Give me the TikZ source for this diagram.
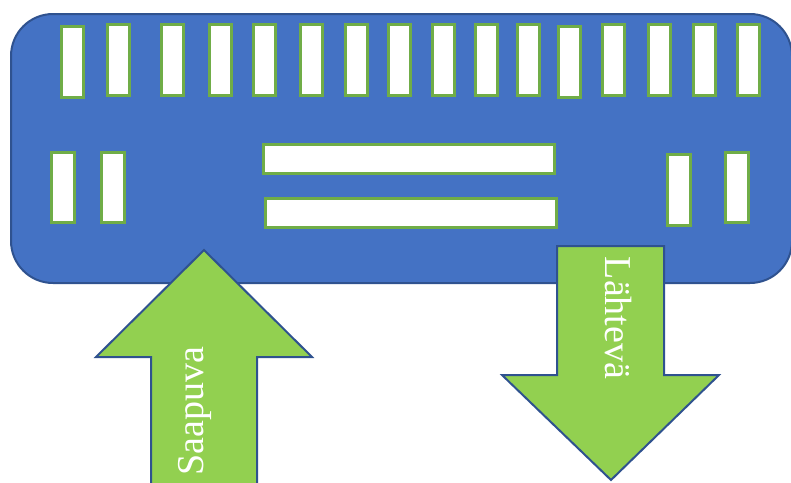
\documentclass[tikz,border=0pt]{standalone}
\usepackage{fontspec}
\setmainfont{Liberation Serif}
\definecolor{boxblue}{HTML}{4472C4}
\definecolor{edgeblue}{HTML}{2F528F}
\definecolor{bargreen}{HTML}{70AD47}
\definecolor{arrowgreen}{HTML}{92D050}
\begin{document}
\begin{tikzpicture}[x=1pt,y=-1pt,
  panel/.style={fill=boxblue,draw=edgeblue,line width=2pt,rounded corners=42pt},
  slot/.style={fill=white,draw=bargreen,line width=3pt},
  bigarrow/.style={fill=arrowgreen,draw=edgeblue,line width=2pt,line join=miter},
  arrowtext/.style={text=white,font=\fontsize{38}{42}\selectfont,inner sep=0pt}]
\useasboundingbox (0,0) rectangle (791,482);
% main panel
\draw[panel] (11,14) rectangle (792,283);
% top slots
\foreach \x/\t in {61/26,107/24,161/24,209/24,253/24,300/24,345/24,388/24,432/24,475/24,517/24,558/26,602/24,648/24,693/24,737/24}{
  \draw[slot] (\x,\t) rectangle ++(22,71);
}
% lower vertical slots
\draw[slot] (51,152) rectangle (74,222);
\draw[slot] (101,152) rectangle (124,222);
\draw[slot] (667,154) rectangle (690,225);
\draw[slot] (725,152) rectangle (748,222);
% horizontal slots
\draw[slot] (263,144) rectangle (554,173);
\draw[slot] (265,198) rectangle (556,227);
% incoming arrow
\draw[bigarrow] (151,490) -- (151,357) -- (96,357) -- (204,250) -- (312,357) -- (257,357) -- (257,490);
\node[arrowtext,rotate=90] (saapuva) at (195,411) {Saapuva};
% outgoing arrow
\draw[bigarrow] (557,246) -- (664,246) -- (664,375) -- (719,375) -- (611,480) -- (502,375) -- (557,375) -- cycle;
\node[arrowtext,rotate=-90] (lahteva) at (618,318) {Lähtevä};
\end{tikzpicture}
\end{document}
